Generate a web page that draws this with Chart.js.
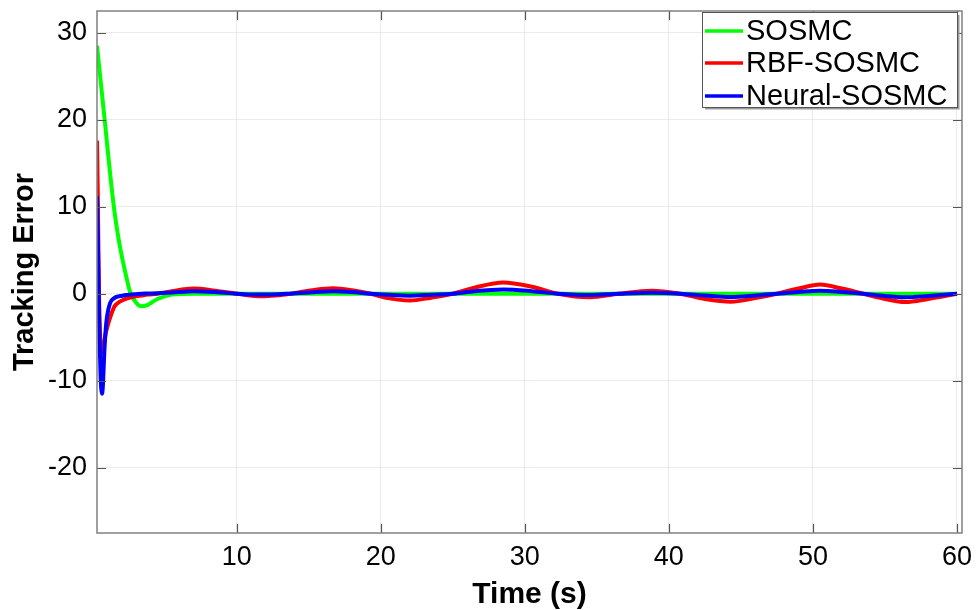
<!DOCTYPE html>
<html><head><meta charset="utf-8">
<script src="https://cdn.jsdelivr.net/npm/chart.js@4.4.1/dist/chart.umd.min.js"></script>
<style>html,body{margin:0;padding:0;background:#fff;}#wrap{width:976px;height:610px;}</style>
</head><body><div id="wrap"><canvas id="c" width="976" height="610"></canvas></div>
<script>
// ---- data ----
const time = [0.3,0.35,0.4,0.45,0.5,0.55,0.6,0.65,0.7,0.75,0.8,0.9,1.0,1.2,1.5,1.8,2.0,2.3,2.6,3.0,3.4,3.8,4.5,5.5,7,8.5,10,11.5,13.5,15,16.7,18,19.3,20.5,22,23.5,25,26.5,28.5,30.5,32.3,34.5,36.5,38.8,40.8,42.5,44.3,46,47.5,49,50.5,52,53.5,55,56.4,58,60];
const sosmc = [28.5,27.7,26.9,26.1,25.3,24.5,23.7,22.9,22.1,21.3,20.5,18.9,17.2,14.0,9.6,6.3,4.5,2.2,0.2,-1.0,-1.45,-1.3,-0.6,-0.1,0,0,0,0,0,0,0,0,0,0,0,0,0,0,0,0,0,0,0,0,0,0,0,0,0,0,0,0,0,0,0,0,0];
const rbfSosmc = [17.6,12,5,-1,-4,-5.8,-6.6,-6.8,-6.6,-6.1,-5.6,-4.6,-3.9,-2.8,-1.5,-1.0,-0.8,-0.6,-0.45,-0.3,-0.2,-0.1,0,0.3,0.6,0.35,0,-0.28,-0.05,0.35,0.62,0.4,0,-0.5,-0.78,-0.45,0,0.7,1.3,0.8,0,-0.4,0,0.35,0,-0.6,-0.92,-0.5,0,0.6,1.05,0.6,0,-0.6,-0.95,-0.6,0];
const neuralSosmc = [11.2,7,2,-3,-6.5,-9.5,-11,-11.5,-10.8,-9,-7,-4.2,-2.6,-1.1,-0.5,-0.3,-0.25,-0.15,-0.1,-0.05,0,0.02,0.05,0.15,0.3,0.2,0,-0.1,0,0.15,0.3,0.2,0,-0.12,-0.22,-0.12,0,0.3,0.5,0.3,0,-0.15,0,0.12,0,-0.2,-0.37,-0.2,0,0.2,0.35,0.2,0,-0.25,-0.4,-0.25,0];
const seriesNames = ['SOSMC','RBF-SOSMC','Neural-SOSMC'];
const seriesColors = ['#00ff00','#ff0000','#0000ff'];
const xTicks = [10,20,30,40,50,60];
const yTicks = [-20,-10,0,10,20,30];
const xTitle = 'Time (s)';
const yTitle = 'Tracking Error';

const toXY = arr => arr.map((v,i)=>({x:time[i], y:v}));
const seriesValues = [sosmc, rbfSosmc, neuralSosmc];

const boxPlugin = {
  id:'boxPlugin',
  afterDraw(chart){
    const {ctx, chartArea:a, scales} = chart;
    ctx.save();
    // inward tick marks
    ctx.strokeStyle = '#555';
    ctx.lineWidth = 1.2;
    const tl = 9;
    ctx.beginPath();
    scales.y.ticks.forEach(t=>{
      const y = Math.round(scales.y.getPixelForValue(t.value))+0.5;
      ctx.moveTo(a.left,y); ctx.lineTo(a.left+tl,y);
      ctx.moveTo(a.right,y); ctx.lineTo(a.right-tl,y);
    });
    scales.x.ticks.forEach(t=>{
      const x = Math.round(scales.x.getPixelForValue(t.value))+0.5;
      ctx.moveTo(x,a.bottom); ctx.lineTo(x,a.bottom-tl);
      ctx.moveTo(x,a.top); ctx.lineTo(x,a.top+tl);
    });
    ctx.stroke();
    // box
    ctx.strokeStyle = '#808080';
    ctx.lineWidth = 1.5;
    ctx.strokeRect(a.left, a.top, a.right-a.left, a.bottom-a.top);
    // legend
    const lx = 702, ly = 12, lw = 255, lh = 95;
    ctx.fillStyle = '#fff';
    ctx.fillRect(lx, ly, lw, lh);
    ctx.strokeStyle = '#9a9a9a';
    ctx.lineWidth = 2;
    ctx.beginPath();
    ctx.moveTo(lx+lw+1.5, ly+3); ctx.lineTo(lx+lw+1.5, ly+lh+1.5); ctx.lineTo(lx+3, ly+lh+1.5);
    ctx.stroke();
    ctx.strokeStyle = '#555';
    ctx.lineWidth = 1;
    ctx.strokeRect(lx+0.5, ly+0.5, lw, lh);
    const rows = [31, 63, 96];
    ctx.font = '29px "Liberation Sans", Arial, sans-serif';
    ctx.textBaseline = 'middle';
    ctx.textAlign = 'left';
    chart.data.datasets.forEach((ds,i)=>{
      ctx.strokeStyle = ds.borderColor;
      ctx.lineWidth = 3.5;
      ctx.beginPath();
      ctx.moveTo(705, rows[i]); ctx.lineTo(743, rows[i]);
      ctx.stroke();
      ctx.fillStyle = '#000';
      ctx.fillText(ds.label, 746, rows[i]+1);
    });
    ctx.restore();
  }
};

new Chart(document.getElementById('c'), {
  type:'line',
  data:{
    datasets: seriesNames.map((n,i)=>({
      label:n,
      data:toXY(seriesValues[i]),
      borderColor:seriesColors[i],
      backgroundColor:seriesColors[i],
      borderWidth:4,
      pointRadius:0,
      cubicInterpolationMode:'monotone',
      fill:false,
      order:3-i
    }))
  },
  options:{
    responsive:false,
    animation:false,
    devicePixelRatio:1,
    layout:{padding:{top:11,right:14,left:0,bottom:0}},
    plugins:{legend:{display:false},tooltip:{enabled:false}},
    scales:{
      x:{
        type:'linear', min:0.3, max:60.35,
        afterFit(s){ s.height = 77; s.paddingLeft = 0; s.paddingRight = 0; },
        afterBuildTicks(s){ s.ticks = xTicks.map(v=>({value:v})); },
        grid:{color:'#ebebeb', lineWidth:1, drawTicks:false},
        border:{display:false},
        ticks:{color:'#000', padding:8, font:{family:'"Liberation Sans", Arial, sans-serif', size:27}, maxRotation:0},
        title:{display:true, text:xTitle, color:'#000', padding:0, font:{family:'"Liberation Sans", Arial, sans-serif', size:30, weight:'bold', lineHeight:1.05}}
      },
      y:{
        type:'linear', min:-27.5, max:32.5,
        afterFit(s){ s.width = 97; s.paddingTop = 0; s.paddingBottom = 0; },
        afterBuildTicks(s){ s.ticks = yTicks.map(v=>({value:v})); },
        grid:{color:'#ebebeb', lineWidth:1, drawTicks:false},
        border:{display:false},
        ticks:{color:'#000', padding:10, font:{family:'"Liberation Sans", Arial, sans-serif', size:27}},
        title:{display:true, text:yTitle, color:'#000', padding:{top:10,bottom:0}, font:{family:'"Liberation Sans", Arial, sans-serif', size:29, weight:'bold', lineHeight:1.05}}
      }
    }
  },
  plugins:[boxPlugin]
});
</script></body></html>
